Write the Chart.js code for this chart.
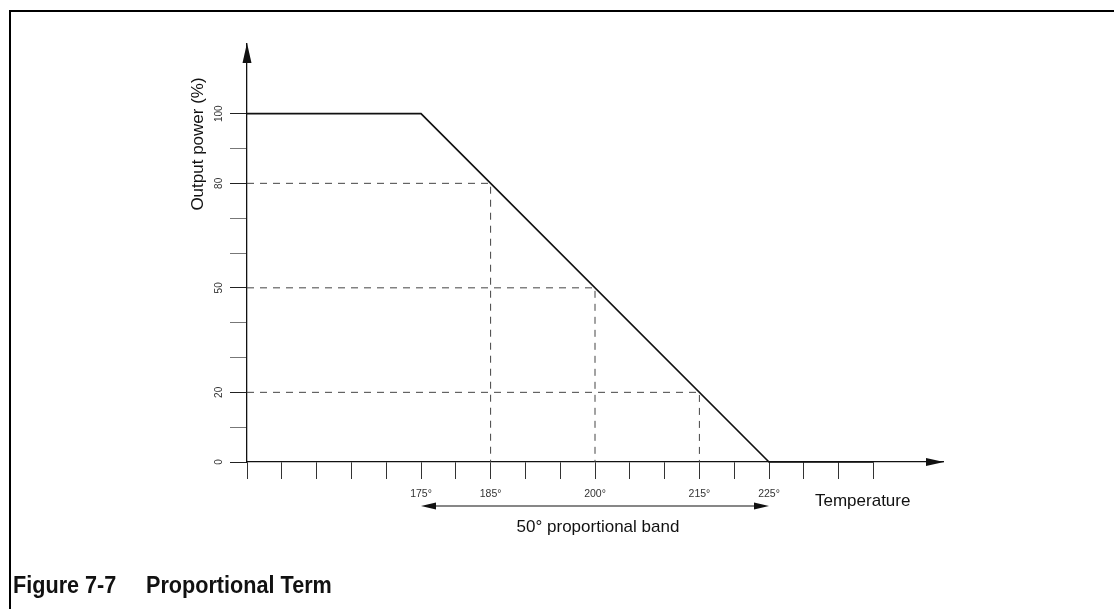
<!DOCTYPE html>
<html><head><meta charset="utf-8">
<script src="https://cdn.jsdelivr.net/npm/chart.js@4.4.1/dist/chart.umd.min.js"></script>
<style>
html,body{margin:0;padding:0;background:#fff;}
#wrap{position:relative;width:1114px;height:609px;overflow:hidden;background:#fff;}
#frame{position:absolute;left:9px;top:10px;right:-5px;bottom:-5px;border-top:2px solid #000;border-left:2px solid #000;}
#box{position:absolute;left:0;top:0;width:1114px;height:609px;}
.cap{position:absolute;top:574px;font-family:"Liberation Sans",Arial,sans-serif;font-weight:bold;font-size:23.5px;line-height:23.5px;color:#111;white-space:nowrap;transform:scaleX(0.92);transform-origin:0 0;}
</style></head><body>
<div id="wrap"><div id="frame"></div>
<div id="box"><canvas id="cv"></canvas></div>
<div class="cap" style="left:13px">Figure 7-7</div><div class="cap" style="left:146px">Proportional Term</div>
</div>
<script>
const temps = [150, 175, 225, 240];
const power = [100, 100, 0, 0];
const guideTemps = [185, 200, 215];
const guidePower = [80, 50, 20];
const xTickLabels = [175, 185, 200, 215, 225];
const yTickLabels = [0, 20, 50, 80, 100];
const bandStart = 175, bandEnd = 225;
const xMin = 150, xMax = 250, xTickMax = 240, xStep = 5;
const yMin = 0, yMax = 120, yTickMax = 100, yStep = 10;
const yTitle = 'Output power (%)';
const xTitle = 'Temperature';
const bandLabel = '50\u00B0 proportional band';

const datasets = [{
  data: temps.map((t, i) => ({x: t, y: power[i]})),
  borderColor: '#111', borderWidth: 1.7, pointRadius: 0, tension: 0, clip: false
}];
guideTemps.forEach((t, i) => {
  datasets.push({
    data: [{x: xMin, y: guidePower[i]}, {x: t, y: guidePower[i]}, {x: t, y: 0}],
    borderColor: '#444', borderWidth: 1, borderDash: [7, 6], pointRadius: 0, tension: 0, clip: false
  });
});

const deco = {
  id: 'deco',
  afterDraw(chart) {
    const {ctx, chartArea: a, scales: {x, y}} = chart;
    ctx.save();
    ctx.fillStyle = '#111';
    const yt = y.getPixelForValue(yMax);
    ctx.beginPath(); ctx.moveTo(a.left, yt - 1); ctx.lineTo(a.left - 4.5, yt + 19); ctx.lineTo(a.left + 4.5, yt + 19); ctx.closePath(); ctx.fill();
    const xr = x.getPixelForValue(xMax);
    ctx.beginPath(); ctx.moveTo(xr + 1, a.bottom); ctx.lineTo(xr - 17, a.bottom - 4); ctx.lineTo(xr - 17, a.bottom + 4); ctx.closePath(); ctx.fill();

    ctx.font = '10px "Liberation Sans", Arial, sans-serif';
    ctx.fillStyle = '#333'; ctx.textAlign = 'center'; ctx.textBaseline = 'middle';
    yTickLabels.forEach(v => {
      ctx.save(); ctx.translate(a.left - 28, y.getPixelForValue(v)); ctx.rotate(-Math.PI / 2);
      ctx.fillText(String(v), 0, 0); ctx.restore();
    });

    ctx.font = '17px "Liberation Sans", Arial, sans-serif'; ctx.fillStyle = '#111';
    ctx.save(); ctx.translate(a.left - 49, 144); ctx.rotate(-Math.PI / 2); ctx.fillText(yTitle, 0, 0); ctx.restore();
    ctx.textAlign = 'left'; ctx.textBaseline = 'alphabetic';
    ctx.fillText(xTitle, 815, a.bottom + 44);

    const bx1 = x.getPixelForValue(bandStart), bx2 = x.getPixelForValue(bandEnd), by = a.bottom + 44;
    ctx.strokeStyle = '#111'; ctx.lineWidth = 1.2;
    ctx.beginPath(); ctx.moveTo(bx1 + 12, by); ctx.lineTo(bx2 - 12, by); ctx.stroke();
    ctx.beginPath(); ctx.moveTo(bx1, by); ctx.lineTo(bx1 + 15, by - 3.5); ctx.lineTo(bx1 + 15, by + 3.5); ctx.closePath(); ctx.fill();
    ctx.beginPath(); ctx.moveTo(bx2, by); ctx.lineTo(bx2 - 15, by - 3.5); ctx.lineTo(bx2 - 15, by + 3.5); ctx.closePath(); ctx.fill();
    ctx.textAlign = 'center';
    ctx.fillText(bandLabel, (bx1 + bx2) / 2 + 3, by + 26);
    ctx.restore();
  }
};

new Chart(document.getElementById('cv'), {
  type: 'line',
  data: {datasets},
  plugins: [deco],
  options: {
    responsive: true, maintainAspectRatio: false, animation: false,
    layout: {padding: {left: 207, top: 44, right: 171, bottom: 107}},
    plugins: {legend: {display: false}, tooltip: {enabled: false}},
    scales: {
      x: {
        type: 'linear', min: xMin, max: xMax,
        afterFit: s => { s.height = 40; },
        ticks: {stepSize: xStep, autoSkip: false, maxRotation: 0, minRotation: 0, padding: 9,
          font: {family: '"Liberation Sans", Arial, sans-serif', size: 10.5}, color: '#333',
          callback: v => xTickLabels.includes(v) ? v + '\u00B0' : ''},
        grid: {drawOnChartArea: false, tickLength: 17, lineWidth: 1,
          color: c => (c.tick && c.tick.value <= xTickMax) ? '#333' : 'rgba(0,0,0,0)'},
        border: {display: true, color: '#111', width: 1.3}
      },
      y: {
        type: 'linear', min: yMin, max: yMax,
        afterFit: s => { s.width = 40; },
        ticks: {stepSize: yStep, display: false},
        grid: {drawOnChartArea: false, tickLength: 17, lineWidth: 1,
          color: c => !c.tick || c.tick.value > yTickMax ? 'rgba(0,0,0,0)' : (yTickLabels.includes(c.tick.value) ? '#222' : '#777')},
        border: {display: true, color: '#111', width: 1.3}
      }
    }
  }
});
</script>
</body></html>
